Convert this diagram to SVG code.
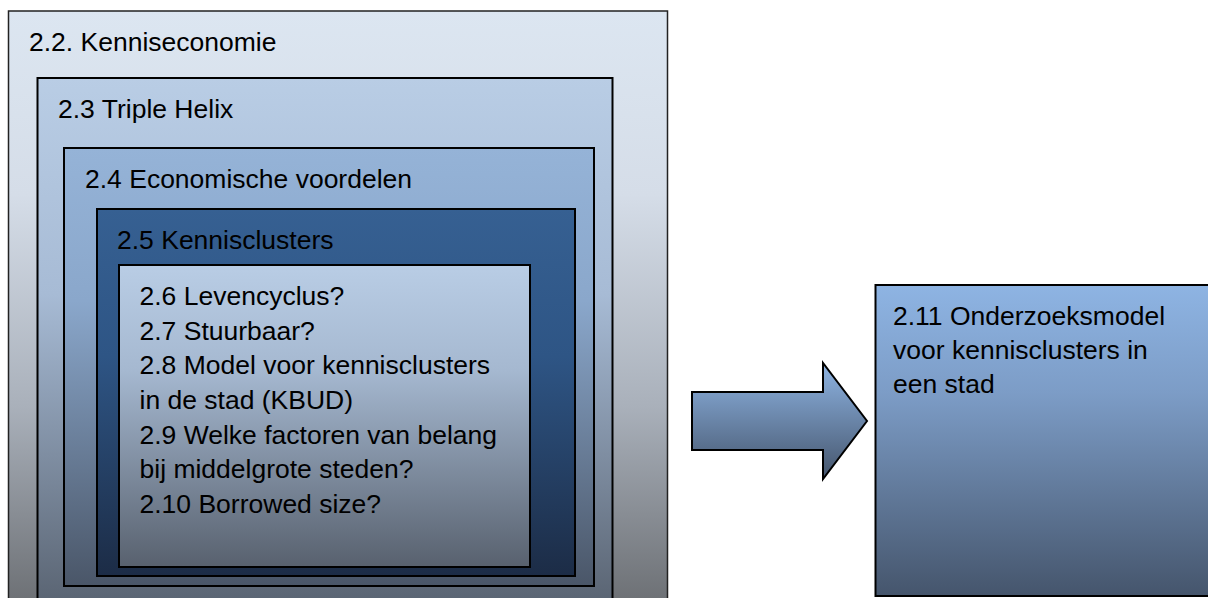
<svg xmlns="http://www.w3.org/2000/svg" width="1208" height="598" viewBox="0 0 1208 598">
  <defs>
    <linearGradient id="gOuter" x1="0" y1="0" x2="0" y2="1">
      <stop offset="0" stop-color="#dce6f1"/>
      <stop offset="0.3" stop-color="#d5dde8"/>
      <stop offset="0.65" stop-color="#a9b0ba"/>
      <stop offset="1" stop-color="#676a6e"/>
    </linearGradient>
    <linearGradient id="gHelix" x1="0" y1="0" x2="0" y2="1">
      <stop offset="0" stop-color="#b9cde5"/>
      <stop offset="0.4" stop-color="#a7bbd5"/>
      <stop offset="1" stop-color="#56606e"/>
    </linearGradient>
    <linearGradient id="gEcon" x1="0" y1="0" x2="0" y2="1">
      <stop offset="0" stop-color="#95b3d7"/>
      <stop offset="0.35" stop-color="#8aa7cb"/>
      <stop offset="1" stop-color="#4a5668"/>
    </linearGradient>
    <linearGradient id="gClus" x1="0" y1="0" x2="0" y2="1">
      <stop offset="0" stop-color="#366092"/>
      <stop offset="0.4" stop-color="#2e5585"/>
      <stop offset="1" stop-color="#1c2c46"/>
    </linearGradient>
    <linearGradient id="gInner" x1="0" y1="0" x2="0" y2="1">
      <stop offset="0" stop-color="#b9cde5"/>
      <stop offset="0.35" stop-color="#a5b8d0"/>
      <stop offset="1" stop-color="#58616e"/>
    </linearGradient>
    <linearGradient id="gModel" x1="0" y1="0" x2="0" y2="1">
      <stop offset="0" stop-color="#8eb4e3"/>
      <stop offset="0.35" stop-color="#7c9cc6"/>
      <stop offset="1" stop-color="#45556c"/>
    </linearGradient>
    <linearGradient id="gArrow" x1="0" y1="0" x2="0" y2="1">
      <stop offset="0" stop-color="#8eb4e3"/>
      <stop offset="1" stop-color="#45556c"/>
    </linearGradient>
    <style>
      .box { stroke: #000; stroke-width: 2; }
      .outer { stroke: #222; stroke-width: 1.5; }
      .lbl { font-family: "Liberation Sans", Arimo, Arial, sans-serif; font-size: 26.5px; fill: #000; }
    </style>
  </defs>

  <!-- nested chapter frames, outermost first -->
  <g id="kenniseconomie">
    <rect class="outer" x="8.5" y="11" width="659" height="610" fill="url(#gOuter)"/>
    <text class="lbl" x="29" y="51">2.2. Kenniseconomie</text>
  </g>

  <g id="triple-helix">
    <rect class="box" x="37.5" y="78" width="575" height="540" fill="url(#gHelix)"/>
    <text class="lbl" x="58" y="118">2.3 Triple Helix</text>
  </g>

  <g id="economische-voordelen">
    <rect class="box" x="64" y="148" width="530" height="438" fill="url(#gEcon)"/>
    <text class="lbl" x="85" y="188">2.4 Economische voordelen</text>
  </g>

  <g id="kennisclusters">
    <rect class="box" x="97" y="209" width="478" height="367" fill="url(#gClus)"/>
    <text class="lbl" x="117" y="249">2.5 Kennisclusters</text>
  </g>

  <g id="vragen">
    <rect class="box" x="119" y="265" width="411" height="302" fill="url(#gInner)"/>
    <text class="lbl" x="139.5" y="305">2.6 Levencyclus?</text>
    <text class="lbl" x="139.5" y="339.5">2.7 Stuurbaar?</text>
    <text class="lbl" x="139.5" y="374">2.8 Model voor kennisclusters</text>
    <text class="lbl" x="139.5" y="409">in de stad (KBUD)</text>
    <text class="lbl" x="139.5" y="443.5">2.9 Welke factoren van belang</text>
    <text class="lbl" x="139.5" y="478">bij middelgrote steden?</text>
    <text class="lbl" x="139.5" y="512.5">2.10 Borrowed size?</text>
  </g>

  <!-- block arrow leading to the research model -->
  <g id="connectors">
    <polygon class="box" stroke-width="1.5" points="692,392 823,392 823,363 867,421 823,479 823,450 692,450" fill="url(#gArrow)"/>
  </g>

  <g id="onderzoeksmodel">
    <rect class="box" x="875.5" y="285" width="345" height="311" fill="url(#gModel)"/>
    <text class="lbl" x="893" y="325">2.11 Onderzoeksmodel</text>
    <text class="lbl" x="893" y="359">voor kennisclusters in</text>
    <text class="lbl" x="893" y="393">een stad</text>
  </g>
</svg>
